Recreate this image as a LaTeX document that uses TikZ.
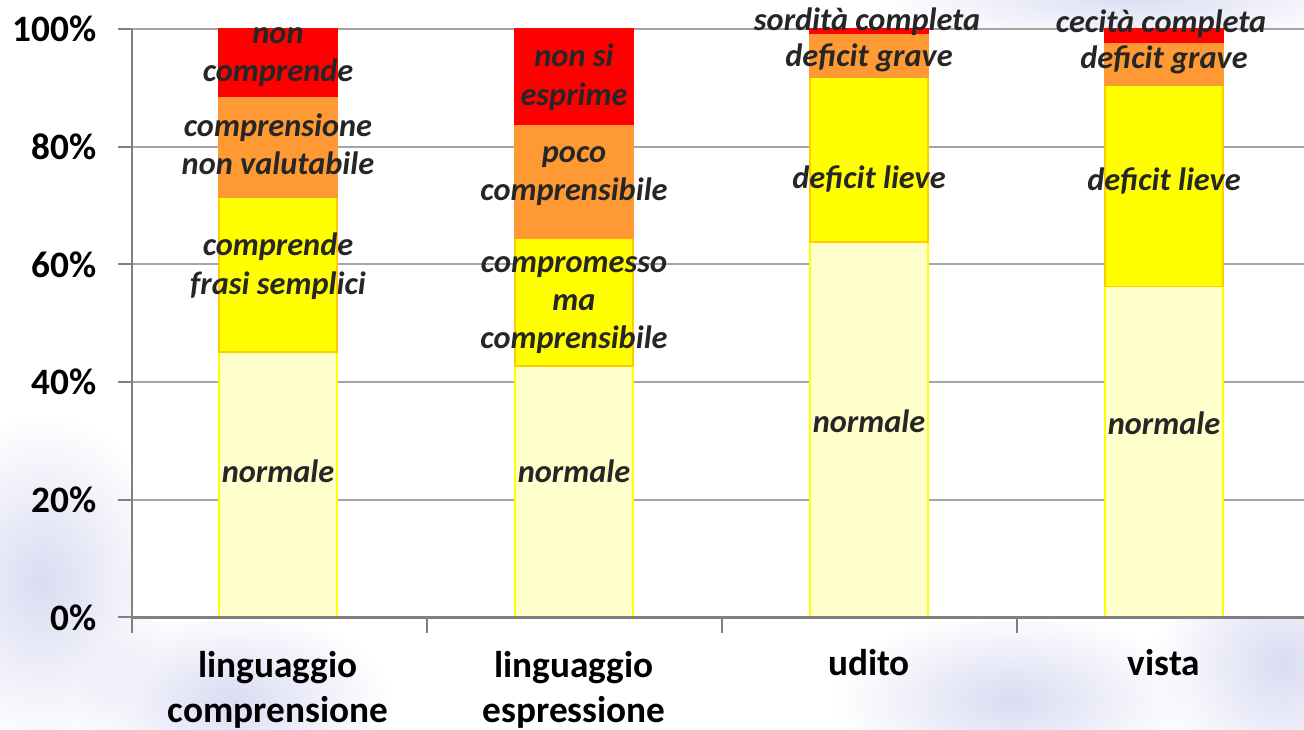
\documentclass[tikz,border=0pt]{standalone}
\usepackage{fontspec}
\setmainfont{Carlito}
\definecolor{barred}{RGB}{255,0,0}
\definecolor{barorange}{RGB}{255,153,51}
\definecolor{baryellow}{RGB}{255,255,0}
\definecolor{bargold}{RGB}{255,204,0}
\definecolor{barpale}{RGB}{255,255,204}
\definecolor{labelgray}{RGB}{38,38,38}
\definecolor{gridgray}{RGB}{165,165,165}
\definecolor{axisgray}{RGB}{128,128,128}
\definecolor{haze}{RGB}{218,220,242}

\begin{document}
\begin{tikzpicture}[x=0.01cm,y=0.0588cm]
\tikzstyle{every node}+=[inner sep=0pt]
\tikzstyle{seglabel}=[font=\fontsize{9.2}{10.9}\selectfont\bfseries\itshape, text=labelgray, align=center]
\tikzstyle{catlabel}=[font=\fontsize{10.6}{12.8}\selectfont\bfseries, align=center]
\tikzstyle{ticklabel}=[font=\fontsize{10.6}{12}\selectfont\bfseries, anchor=east]
\tikzstyle{gridline}=[gridgray, line width=0.55pt]
\tikzstyle{axisline}=[axisgray, line width=0.6pt]
\tikzstyle{haze spot}=[inner color=haze, outer color=white, blend mode=multiply]
\useasboundingbox (-132,-19.05) rectangle (1172,104.93);
\fill[white] (-132,-19.05) rectangle (1172,104.93);
% faded photo behind the chart
\shade[haze spot] (-90,6) ellipse [x radius=1.3cm, y radius=1.7cm];
\shade[haze spot] (100,-14) ellipse [x radius=1.6cm, y radius=0.9cm];
\shade[haze spot] (880,-14) ellipse [x radius=1.8cm, y radius=0.9cm];
\shade[haze spot] (1150,-8) ellipse [x radius=1.3cm, y radius=1.3cm];
\shade[haze spot] (1000,106) ellipse [x radius=2.6cm, y radius=0.55cm];
\fill[white] (0,0) rectangle (1172,100);
% grid and axes
\draw[gridline] (0,20) -- (1172,20);
\draw[gridline] (0,40) -- (1172,40);
\draw[gridline] (0,60) -- (1172,60);
\draw[gridline] (0,80) -- (1172,80);
\draw[gridline] (0,100) -- (1172,100);
\draw[axisline] (0,0) -- (0,100);
\draw[axisline] (-14,0) -- (0,0);
\draw[axisline] (-14,20) -- (0,20);
\draw[axisline] (-14,40) -- (0,40);
\draw[axisline] (-14,60) -- (0,60);
\draw[axisline] (-14,80) -- (0,80);
\draw[axisline] (-14,100) -- (0,100);
\draw[axisline] (0,0) -- (0,-2.6);
\draw[axisline] (295,0) -- (295,-2.6);
\draw[axisline] (590,0) -- (590,-2.6);
\draw[axisline] (885,0) -- (885,-2.6);
% bars
\filldraw[fill=barpale, draw=baryellow, line width=0.4pt] (87,0) rectangle (205,45.1);
\filldraw[fill=baryellow, draw=bargold, line width=0.4pt] (87,45.1) rectangle (205,71.4);
\filldraw[fill=barorange, draw=barorange, line width=0.4pt] (87,71.4) rectangle (205,88.5);
\filldraw[fill=barred, draw=barred, line width=0.4pt] (87,88.5) rectangle (205,100);
\filldraw[fill=barpale, draw=baryellow, line width=0.4pt] (383,0) rectangle (501,42.7);
\filldraw[fill=baryellow, draw=bargold, line width=0.4pt] (383,42.7) rectangle (501,64.5);
\filldraw[fill=barorange, draw=barorange, line width=0.4pt] (383,64.5) rectangle (501,83.8);
\filldraw[fill=barred, draw=barred, line width=0.4pt] (383,83.8) rectangle (501,100);
\filldraw[fill=barpale, draw=baryellow, line width=0.4pt] (678,0) rectangle (796,63.8);
\filldraw[fill=baryellow, draw=bargold, line width=0.4pt] (678,63.8) rectangle (796,91.8);
\filldraw[fill=barorange, draw=barorange, line width=0.4pt] (678,91.8) rectangle (796,99.2);
\filldraw[fill=barred, draw=barred, line width=0.4pt] (678,99.2) rectangle (796,100);
\filldraw[fill=barpale, draw=baryellow, line width=0.4pt] (973,0) rectangle (1091,56.2);
\filldraw[fill=baryellow, draw=bargold, line width=0.4pt] (973,56.2) rectangle (1091,90.5);
\filldraw[fill=barorange, draw=barorange, line width=0.4pt] (973,90.5) rectangle (1091,97.8);
\filldraw[fill=barred, draw=barred, line width=0.4pt] (973,97.8) rectangle (1091,100);
\draw[axisgray, line width=0.85pt] (0,0) -- (1172,0);
% segment labels
\node[seglabel] (lcNormale) at (146,24.8) {normale};
\node[seglabel] (lcFrasi) at (146,59.7) {comprende\\frasi semplici};
\node[seglabel] (lcNonVal) at (146,80.4) {comprensione\\non valutabile};
\node[seglabel] (lcNon) at (146,95.2) {non\\comprende};
\node[seglabel] (leNormale) at (442,24.8) {normale};
\node[seglabel] (leComp) at (442,53.1) {compromesso\\ma\\comprensibile};
\node[seglabel] (lePoco) at (442,75.0) {poco\\comprensibile};
\node[seglabel] (leNonSi) at (442,91.8) {non si\\esprime};
\node[seglabel] (udNormale) at (737,33.3) {normale};
\node[seglabel] (udLieve) at (737,74.5) {deficit lieve};
\node[seglabel] (udGrave) at (737,95.1) {deficit grave};
\node[seglabel] (udSord) at (735,101.2) {sordità completa};
\node[seglabel] (viNormale) at (1032,33.0) {normale};
\node[seglabel] (viLieve) at (1032,74.1) {deficit lieve};
\node[seglabel] (viGrave) at (1032,94.7) {deficit grave};
\node[seglabel] (viCec) at (1029,100.9) {cecità completa};
% axis labels
\node[ticklabel] (t0) at (-35,0) {0\%};
\node[ticklabel] (t20) at (-35,20) {20\%};
\node[ticklabel] (t40) at (-35,40) {40\%};
\node[ticklabel] (t60) at (-35,60) {60\%};
\node[ticklabel] (t80) at (-35,80) {80\%};
\node[ticklabel] (t100) at (-35,100) {100\%};
\node[catlabel] (catLC) at (146,-12.3) {linguaggio\\comprensione};
\node[catlabel] (catLE) at (442,-12.3) {linguaggio\\espressione};
\node[catlabel, anchor=base] (catUd) at (737,-9.8) {udito};
\node[catlabel, anchor=base] (catVi) at (1032,-9.8) {vista};
\end{tikzpicture}
\end{document}
